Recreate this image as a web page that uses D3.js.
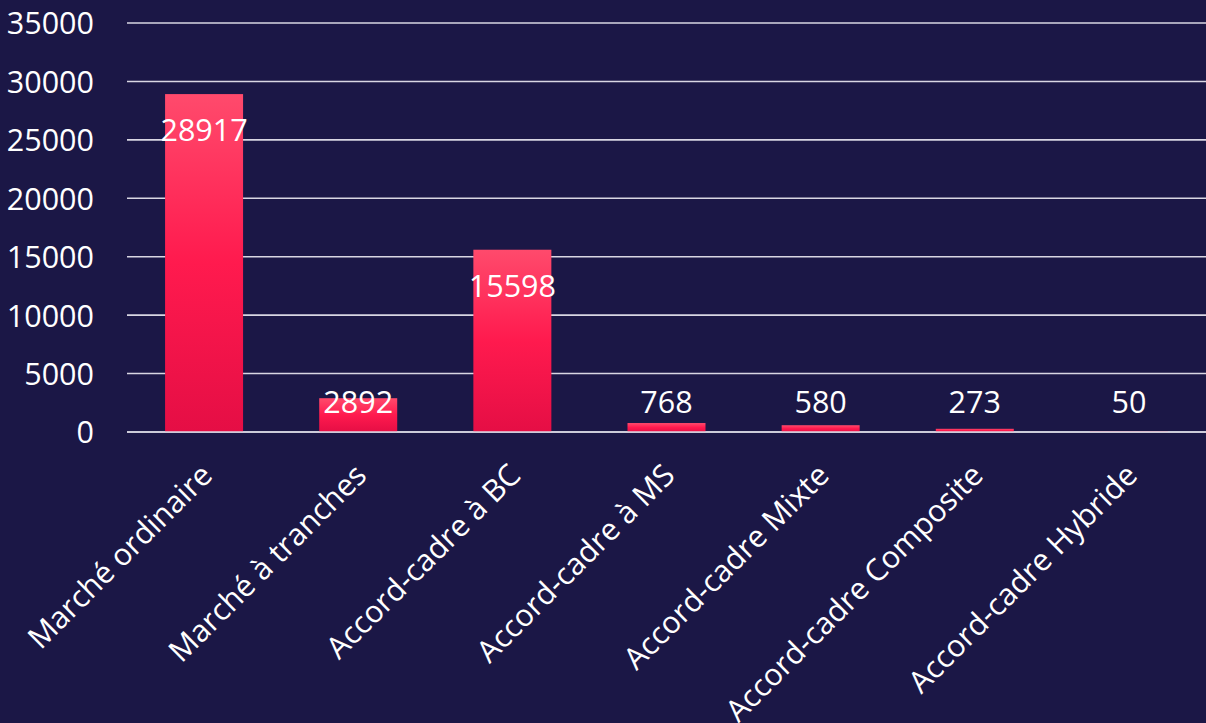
<!DOCTYPE html>
<html>
<head>
<meta charset="utf-8">
<script src="https://cdn.jsdelivr.net/npm/d3@7"></script>
<style>
  html, body { margin: 0; padding: 0; background: #1b1746; }
  svg { display: block; }
  text { font-family: "Open Sans", "Noto Sans", sans-serif; fill: #ffffff; }
</style>
</head>
<body>
<svg id="chart"></svg>
<script>
// categories and values
var categories = ["Marché ordinaire", "Marché à tranches", "Accord-cadre à BC", "Accord-cadre à MS",
                  "Accord-cadre Mixte", "Accord-cadre Composite", "Accord-cadre Hybride"];
var counts = [28917, 2892, 15598, 768, 580, 273, 50];
var yTicks = [0, 5000, 10000, 15000, 20000, 25000, 30000, 35000];

const W = 1206, H = 723;
const plotLeft = 127, plotRight = 1206, plotTop = 23, plotBottom = 432;
const fontSize = 30.5;

var svg = d3.select("#chart").attr("width", W).attr("height", H);
svg.append("rect").attr("width", W).attr("height", H).attr("fill", "#1b1746");

var x = d3.scaleBand().domain(categories).range([plotLeft, plotRight])
  .paddingInner(0.494).paddingOuter(0.247);
var y = d3.scaleLinear().domain([0, 35000]).range([plotBottom, plotTop]);

// gradient for bars
var grad = svg.append("defs").append("linearGradient")
  .attr("id", "barGrad").attr("x1", 0).attr("y1", 0).attr("x2", 0).attr("y2", 1);
grad.append("stop").attr("offset", "0%").attr("stop-color", "#ff4a6c");
grad.append("stop").attr("offset", "50%").attr("stop-color", "#ff1a4e");
grad.append("stop").attr("offset", "100%").attr("stop-color", "#e50e45");

// gridlines + y labels
var yAxis = d3.axisLeft(y).tickValues(yTicks).tickSize(0).tickPadding(0).tickFormat(d3.format("d"));
var gy = svg.append("g").attr("transform", "translate(" + plotLeft + ",0)").call(yAxis);
gy.select(".domain").remove();
gy.selectAll(".tick line").remove();
gy.attr("font-family", null).attr("font-size", null);
gy.selectAll(".tick text")
  .attr("x", -33).attr("dy", "0.36em")
  .attr("font-size", fontSize).attr("fill", "#ffffff");

svg.append("g").selectAll("line")
  .data(yTicks)
  .enter()
  .append("line")
    .attr("x1", plotLeft).attr("x2", plotRight)
    .attr("y1", function(d) { return y(d); })
    .attr("y2", function(d) { return y(d); })
    .attr("stroke", "#d9d7e3").attr("stroke-width", 1.6);

// bars
svg.append("g").selectAll("rect")
  .data(counts)
  .enter()
  .append("rect")
    .attr("x", function(d, i) { return x(categories[i]); })
    .attr("y", function(d) { return y(d); })
    .attr("width", x.bandwidth())
    .attr("height", function(d) { return y(0) - y(d); })
    .attr("fill", "url(#barGrad)");

// redraw baseline over bars
svg.append("line")
  .attr("x1", plotLeft).attr("x2", plotRight).attr("y1", y(0)).attr("y2", y(0))
  .attr("stroke", "#d9d7e3").attr("stroke-width", 1.6);

// value labels
svg.append("g").selectAll("text")
  .data(counts)
  .enter()
  .append("text")
    .attr("x", function(d, i) { return x(categories[i]) + x.bandwidth() / 2; })
    .attr("y", function(d) { return Math.min(y(d) + 36, y(0) - 30); })
    .attr("dy", "0.36em")
    .attr("text-anchor", "middle")
    .attr("font-size", fontSize)
    .text(function(d) { return d; });

// x labels rotated
svg.append("g").selectAll("text")
  .data(categories)
  .enter()
  .append("text")
    .attr("transform", function(d) {
      return "translate(" + (x(d) + x.bandwidth() / 2 - 5) + "," + (plotBottom + 30) + ") rotate(-45)";
    })
    .attr("text-anchor", "end")
    .attr("dy", "0.7em")
    .attr("font-size", fontSize)
    .text(function(d) { return d; });
</script>
</body>
</html>
